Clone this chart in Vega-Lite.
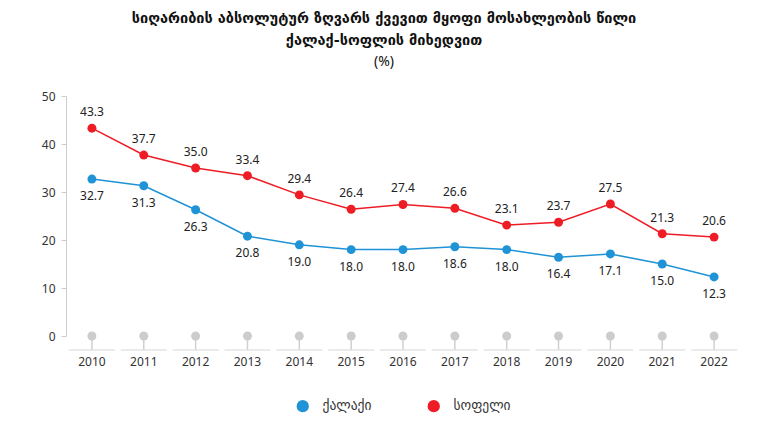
{
  "$schema": "https://vega.github.io/schema/vega-lite/v6.json",
  "width": 674,
  "height": 240,
  "autosize": "none",
  "padding": {"left": 66, "top": 96, "right": 29, "bottom": 100},
  "background": "white",
  "config": {
    "view": {"stroke": null},
    "font": "Noto Sans",
    "legend": {"layout": {"bottom": {"anchor": "middle"}}}
  },
  "title": {
    "text": ["სიღარიბის აბსოლუტურ ზღვარს ქვევით მყოფი მოსახლეობის წილი", "ქალაქ-სოფლის მიხედვით"],
    "subtitle": "(%)",
    "font": "DejaVu Sans",
    "fontSize": 14.5,
    "fontWeight": "bold",
    "lineHeight": 22,
    "color": "#111",
    "subtitleFont": "Noto Sans",
    "subtitleFontSize": 14,
    "subtitleColor": "#111",
    "subtitlePadding": 7,
    "anchor": "middle",
    "dx": -19,
    "offset": 20
  },
  "data": {
    "values": [
      {"year": "2010", "series": "ქალაქი", "value": 32.7},
      {"year": "2011", "series": "ქალაქი", "value": 31.3},
      {"year": "2012", "series": "ქალაქი", "value": 26.3},
      {"year": "2013", "series": "ქალაქი", "value": 20.8},
      {"year": "2014", "series": "ქალაქი", "value": 19.0},
      {"year": "2015", "series": "ქალაქი", "value": 18.0},
      {"year": "2016", "series": "ქალაქი", "value": 18.0},
      {"year": "2017", "series": "ქალაქი", "value": 18.6},
      {"year": "2018", "series": "ქალაქი", "value": 18.0},
      {"year": "2019", "series": "ქალაქი", "value": 16.4},
      {"year": "2020", "series": "ქალაქი", "value": 17.1},
      {"year": "2021", "series": "ქალაქი", "value": 15.0},
      {"year": "2022", "series": "ქალაქი", "value": 12.3},
      {"year": "2010", "series": "სოფელი", "value": 43.3},
      {"year": "2011", "series": "სოფელი", "value": 37.7},
      {"year": "2012", "series": "სოფელი", "value": 35.0},
      {"year": "2013", "series": "სოფელი", "value": 33.4},
      {"year": "2014", "series": "სოფელი", "value": 29.4},
      {"year": "2015", "series": "სოფელი", "value": 26.4},
      {"year": "2016", "series": "სოფელი", "value": 27.4},
      {"year": "2017", "series": "სოფელი", "value": 26.6},
      {"year": "2018", "series": "სოფელი", "value": 23.1},
      {"year": "2019", "series": "სოფელი", "value": 23.7},
      {"year": "2020", "series": "სოფელი", "value": 27.5},
      {"year": "2021", "series": "სოფელი", "value": 21.3},
      {"year": "2022", "series": "სოფელი", "value": 20.6}
    ]
  },
  "encoding": {
    "x": {
      "field": "year",
      "type": "ordinal",
      "scale": {"type": "band", "paddingInner": 0, "paddingOuter": 0},
      "axis": {
        "title": null,
        "labelAngle": 0,
        "domain": false,
        "ticks": false,
        "offset": 14,
        "labelPadding": 6,
        "labelFontSize": 12,
        "labelColor": "#333",
        "labelFont": "Noto Sans"
      }
    }
  },
  "layer": [
    {
      "mark": {"type": "rule", "color": "#d0d0d0", "strokeWidth": 1.5},
      "transform": [{"filter": "datum.series === 'ქალაქი'"}],
      "encoding": {
        "y": {"datum": 0, "type": "quantitative"},
        "y2": {"datum": -2.9}
      }
    },
    {
      "mark": {"type": "tick", "color": "#dadada", "size": 46, "thickness": 1.5, "orient": "horizontal"},
      "transform": [{"filter": "datum.series === 'ქალაქი'"}],
      "encoding": {
        "y": {"datum": -2.9, "type": "quantitative"}
      }
    },
    {
      "mark": {"type": "point", "filled": true, "opacity": 1, "size": 80, "color": "#cccccc"},
      "transform": [{"filter": "datum.series === 'ქალაქი'"}],
      "encoding": {
        "y": {"datum": 0, "type": "quantitative"}
      }
    },
    {
      "mark": {"type": "line", "strokeWidth": 1.5},
      "encoding": {
        "y": {
          "field": "value",
          "type": "quantitative",
          "scale": {"domain": [0, 50], "nice": false},
          "axis": {
            "title": null,
            "values": [0, 10, 20, 30, 40, 50],
            "domainColor": "#cccccc",
            "tickColor": "#cccccc",
            "tickSize": 5,
            "labelFontSize": 12,
            "labelColor": "#333",
            "labelPadding": 6,
            "labelFont": "Noto Sans",
            "gridColor": {"condition": {"test": "datum.value === 0", "value": "#c8c8c8"}, "value": "#eeeeee"},
            "gridWidth": {"condition": {"test": "datum.value === 0", "value": 1.5}, "value": 1}
          }
        },
        "color": {
          "field": "series",
          "type": "nominal",
          "scale": {"domain": ["ქალაქი", "სოფელი"], "range": ["#1f93d6", "#ee1c25"]},
          "legend": {
            "title": null,
            "orient": "bottom",
            "direction": "horizontal",
            "symbolType": "circle",
            "symbolSize": 150,
            "symbolStrokeWidth": 0,
            "labelFont": "DejaVu Sans",
            "labelFontSize": 13.5,
            "labelColor": "#333",
            "columnPadding": 55,
            "labelOffset": 13,
            "offset": 32
          }
        }
      }
    },
    {
      "mark": {"type": "point", "filled": true, "opacity": 1, "size": 80},
      "encoding": {
        "y": {"field": "value", "type": "quantitative"},
        "color": {"field": "series", "type": "nominal"}
      }
    },
    {
      "mark": {"type": "text", "fontSize": 12, "color": "#222", "dy": -16},
      "transform": [{"filter": "datum.series === 'სოფელი'"}],
      "encoding": {
        "y": {"field": "value", "type": "quantitative"},
        "text": {"field": "value", "type": "quantitative", "format": ".1f"}
      }
    },
    {
      "mark": {"type": "text", "fontSize": 12, "color": "#222", "dy": 17},
      "transform": [{"filter": "datum.series === 'ქალაქი'"}],
      "encoding": {
        "y": {"field": "value", "type": "quantitative"},
        "text": {"field": "value", "type": "quantitative", "format": ".1f"}
      }
    }
  ]
}
